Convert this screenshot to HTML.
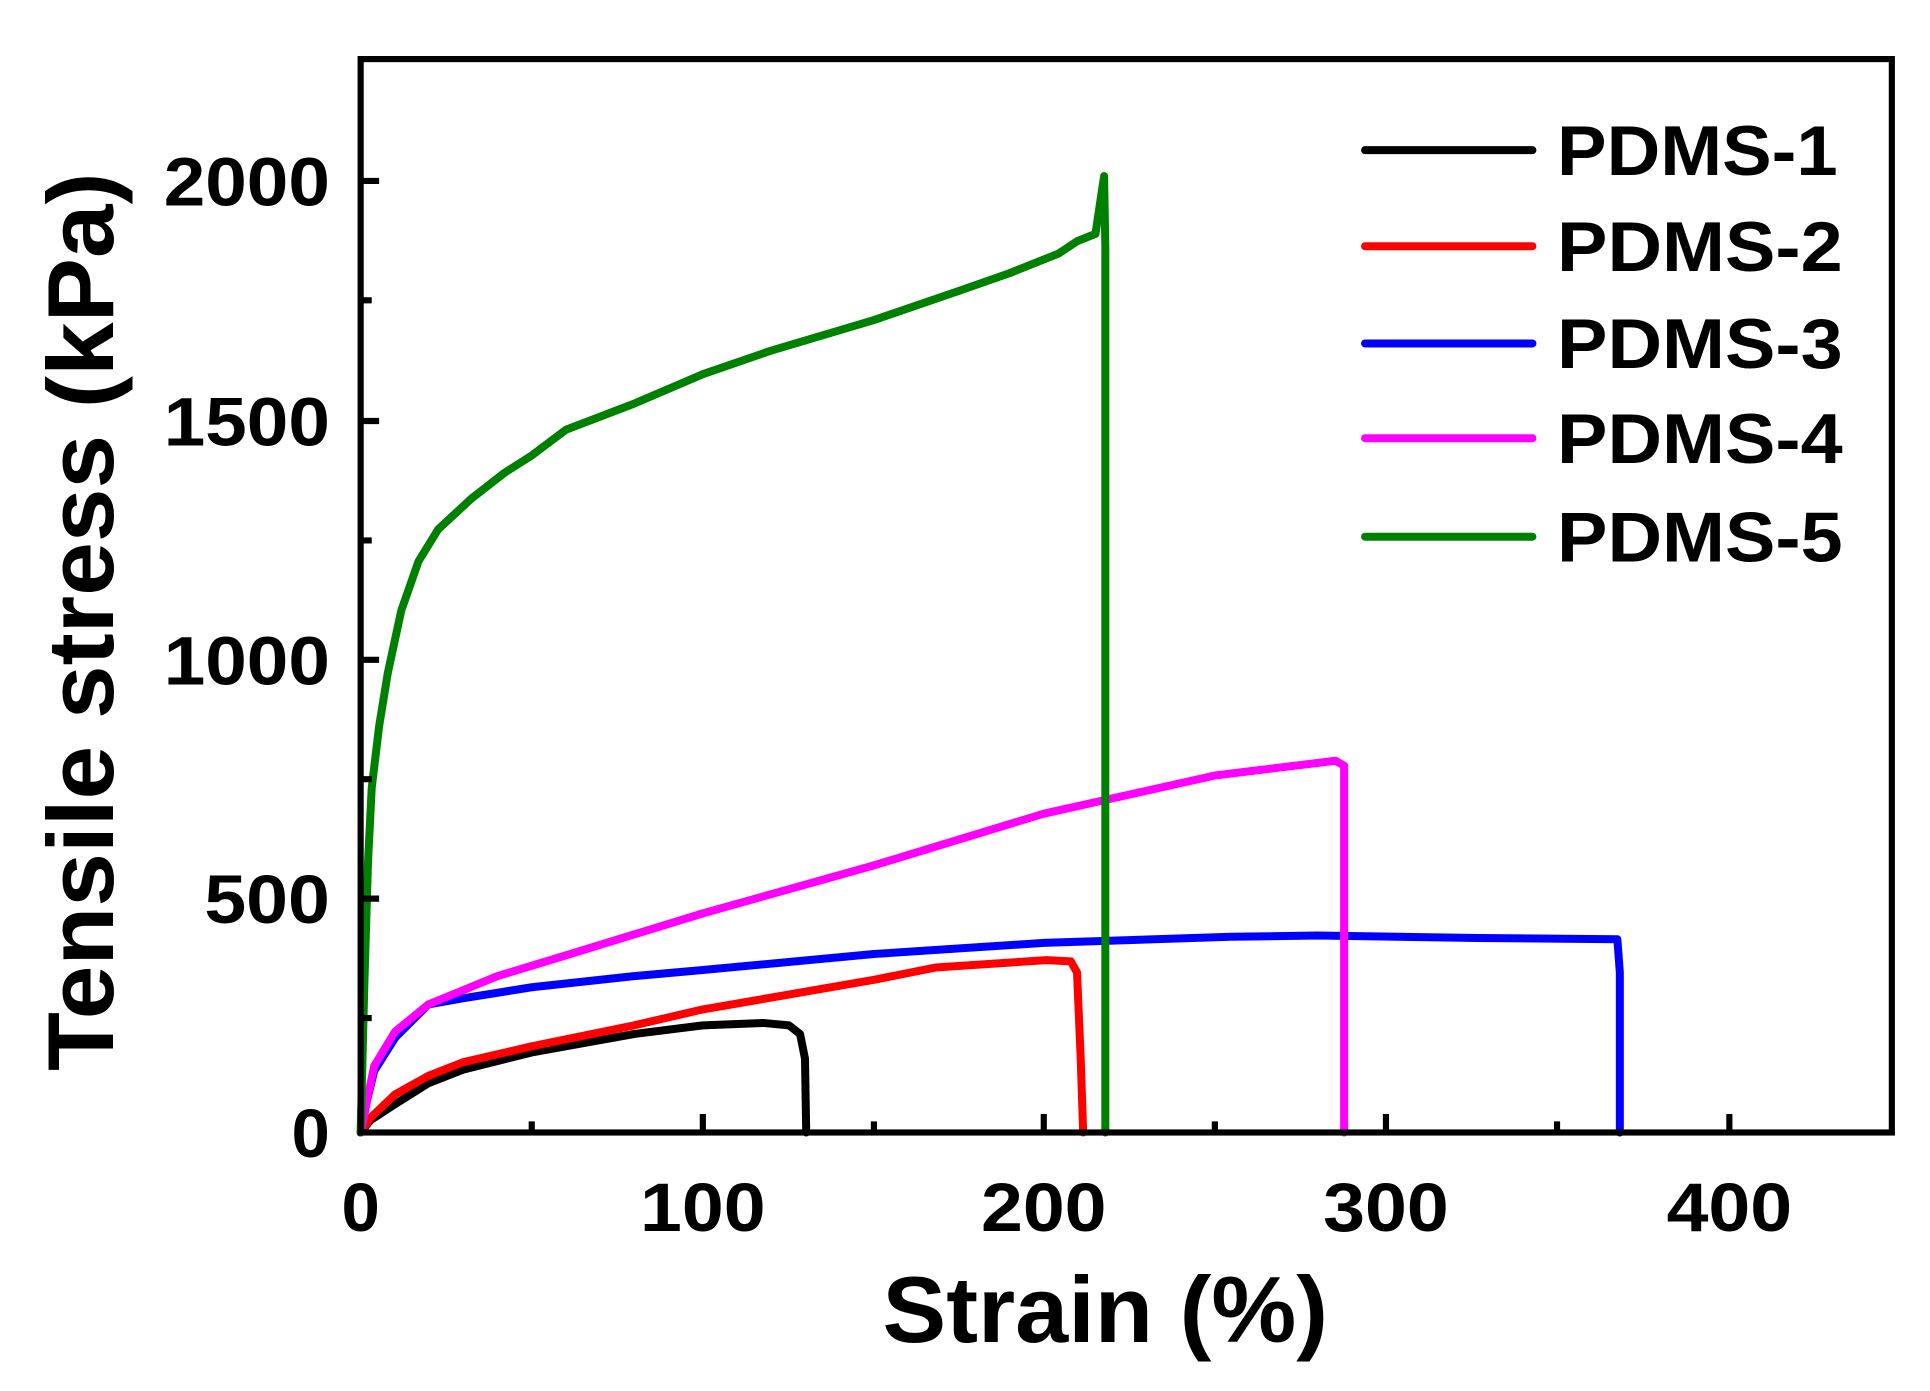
<!DOCTYPE html>
<html><head><meta charset="utf-8"><style>html,body{margin:0;padding:0;background:#fff}svg{display:block}text{font-family:"Liberation Sans",Arial,sans-serif;font-weight:bold;fill:#000}</style></head><body>
<svg width="1930" height="1391" viewBox="0 0 1568 1130" preserveAspectRatio="none" xmlns="http://www.w3.org/2000/svg">
<g fill="none" stroke-linejoin="round" stroke-linecap="round" stroke-width="6.5">
<polyline stroke="#000" points="293,920 301,910 321,897 348,880 376,869 432,855 515,840 571,833 620,831 641,833 650,840 654,860 655,920"/>
<polyline stroke="#f00" points="293,920 301,908 321,889 348,874 376,863 432,850 515,833 571,820 710,796 760,786 820,782 850,780 870,781 875,790 878,860 880,920"/>
<polyline stroke="#00f" points="293,920 298,895 304,870 321,843 348,816 376,811 432,802 515,793 571,788 710,775 848,766 1000,761 1070,760 1200,762 1314,763 1316,790 1316,920"/>
<polyline stroke="#f0f" points="293,920 298,895 304,866 321,838 348,816 404,793 460,776 571,742 710,703 848,661 987,630 1085,618 1092,622 1092,920"/>
<polyline stroke="#008000" points="293,920 296,800 299,700 302,640 308,590 315,547 326,496 340,456 356,430 383,405 410,384 432,370 460,349 515,328 571,304 626,285 710,260 780,236 820,222 845,212 860,206 875,196 890,190 897,143 898,200 898,920"/>
</g>
<rect x="293" y="48" width="1244" height="872" fill="none" stroke="#000" stroke-width="5"/>
<g stroke="#000" stroke-width="5">
<path d="M432,920v-9M571,920v-15M710,920v-9M848,920v-15M987,920v-9M1126,920v-15M1265,920v-9M1405,920v-15"/>
<path d="M293,827h9M293,730h15M293,633h9M293,536h15M293,439h9M293,342h15M293,244h9M293,147h15"/>
</g>
<g font-size="56" text-anchor="end">
<text x="268" y="940">0</text>
<text x="268" y="750" textLength="102" lengthAdjust="spacingAndGlyphs">500</text>
<text x="268" y="556" textLength="135" lengthAdjust="spacingAndGlyphs">1000</text>
<text x="268" y="362" textLength="135" lengthAdjust="spacingAndGlyphs">1500</text>
<text x="268" y="167" textLength="135" lengthAdjust="spacingAndGlyphs">2000</text>
</g>
<g font-size="56" text-anchor="middle">
<text x="293" y="1000">0</text>
<text x="571" y="1000" textLength="102" lengthAdjust="spacingAndGlyphs">100</text>
<text x="848" y="1000" textLength="102" lengthAdjust="spacingAndGlyphs">200</text>
<text x="1126" y="1000" textLength="102" lengthAdjust="spacingAndGlyphs">300</text>
<text x="1405" y="1000" textLength="102" lengthAdjust="spacingAndGlyphs">400</text>
</g>
<text x="898" y="1090" font-size="76" text-anchor="middle" textLength="362" lengthAdjust="spacingAndGlyphs">Strain (%)</text>
<text transform="translate(92,505) rotate(-90)" font-size="76" text-anchor="middle" textLength="730" lengthAdjust="spacingAndGlyphs">Tensile stress (kPa)</text>
<g stroke-width="6.5" stroke-linecap="round">
<line x1="1109" y1="122" x2="1245" y2="122" stroke="#000"/>
<line x1="1109" y1="200" x2="1245" y2="200" stroke="#f00"/>
<line x1="1109" y1="279" x2="1245" y2="279" stroke="#00f"/>
<line x1="1109" y1="356" x2="1245" y2="356" stroke="#f0f"/>
<line x1="1109" y1="436" x2="1245" y2="436" stroke="#008000"/>
</g>
<g font-size="57">
<text x="1265" y="142" textLength="228" lengthAdjust="spacingAndGlyphs">PDMS-1</text>
<text x="1265" y="220" textLength="232" lengthAdjust="spacingAndGlyphs">PDMS-2</text>
<text x="1265" y="299" textLength="232" lengthAdjust="spacingAndGlyphs">PDMS-3</text>
<text x="1265" y="376" textLength="232" lengthAdjust="spacingAndGlyphs">PDMS-4</text>
<text x="1265" y="456" textLength="232" lengthAdjust="spacingAndGlyphs">PDMS-5</text>
</g>
</svg>
</body></html>
